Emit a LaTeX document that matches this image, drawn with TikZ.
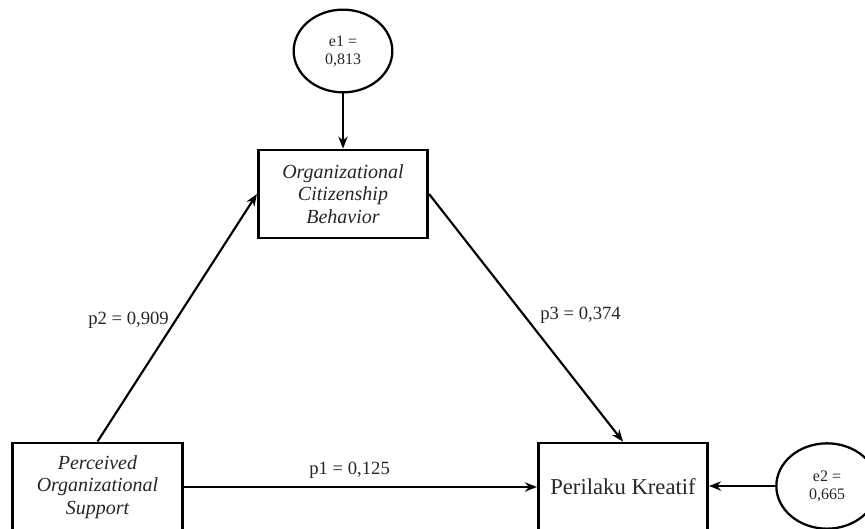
\documentclass[tikz,border=0pt]{standalone}
\usepackage{fontspec}
\setmainfont{Liberation Serif}
\usetikzlibrary{arrows.meta,shapes.geometric}

\begin{document}
\begin{tikzpicture}[x=0.75pt,y=-0.75pt]
        \tikzstyle{var} = [draw, line width=2.1pt, minimum width=127pt, minimum height=66pt, align=center, text=black!85, font=\fontsize{15}{17}\selectfont\itshape]
        \tikzstyle{err} = [draw, ellipse, line width=1.7pt, minimum width=74pt, minimum height=62pt, inner sep=0pt, align=center, text=black!85, font=\fontsize{12}{13.5}\selectfont]
        \tikzstyle{link} = [line width=1.6pt, -{Stealth[length=9pt,width=7pt]}]
        \tikzstyle{lbl} = [text=black!85, font=\fontsize{14}{16}\selectfont]
        \useasboundingbox (0,0) rectangle (865,529);
        \clip (0,0) rectangle (865,529);
        \node[err] (e1) at (343,51) {e1 =\\0,813};
        \node[var] (ocb) at (343,194) {Organizational\\Citizenship\\Behavior};
        \node[var] (pos) at (97.5,487) {Perceived\\Organizational\\Support};
        \node[var, font=\fontsize{17}{19}\selectfont] (pk) at (623,487) {Perilaku Kreatif};
        \node[err, minimum width=76pt, minimum height=64pt] (e2) at (827,486) {e2 =\\0,665};
        \draw[link] (e1) -- (ocb);
        \draw[link] (e2.west) -- (e2.west -| pk.east);
        \draw[link] (pos) -- node[lbl, pos=0.47, above=2pt] {p1 = 0,125} (pk);
        \draw[link] (pos.north) -- node[lbl, pos=0.49, left=1pt] {p2 = 0,909} (ocb.west);
        \draw[link] (ocb.east) -- node[lbl, pos=0.49, right=8pt] {p3 = 0,374} (pk.north);
    \end{tikzpicture}
\end{document}
